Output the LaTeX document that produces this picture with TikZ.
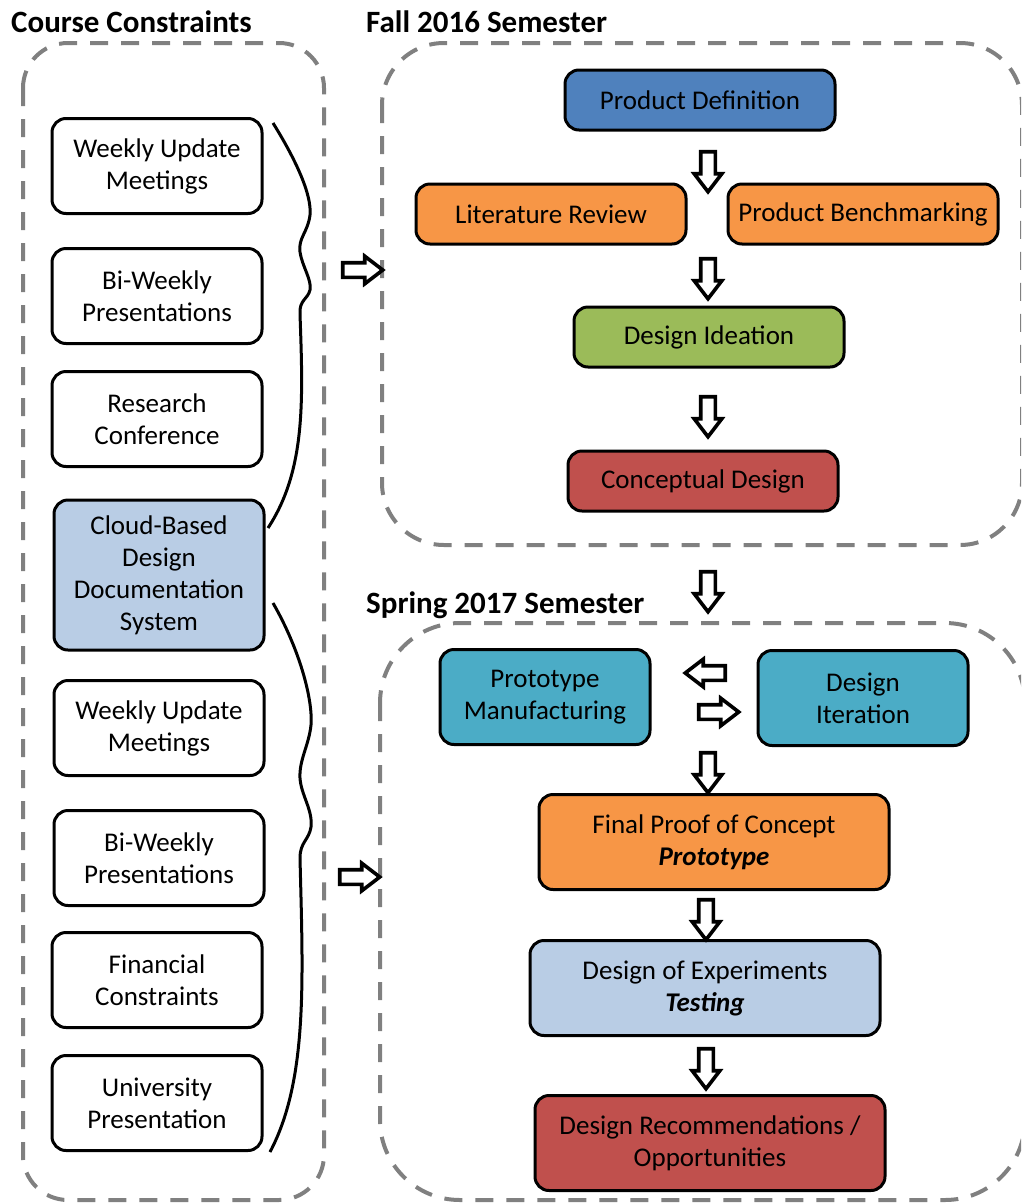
\documentclass[tikz,border=0pt]{standalone}
\usepackage{fontspec}
\setmainfont{Carlito}
\usetikzlibrary{shapes.arrows}

\definecolor{offblue}{HTML}{4F81BD}
\definecolor{offorange}{HTML}{F79646}
\definecolor{offgreen}{HTML}{9BBB59}
\definecolor{offred}{HTML}{C0504D}
\definecolor{offaqua}{HTML}{4BACC6}
\definecolor{offpale}{HTML}{B9CDE5}
\definecolor{dashgray}{HTML}{808080}

\newcommand{\boxfont}{\fontsize{27}{32}\selectfont}
\newcommand{\headfont}{\fontsize{31}{36}\selectfont\bfseries}

\begin{document}
\begin{tikzpicture}[x=1pt, y=-1pt,
  stage/.style={draw=black, line width=3pt, rounded corners=14pt, align=center,
    font=\boxfont, text=black, inner sep=2pt},
  sidebox/.style={stage, fill=white, minimum width=210pt, minimum height=95pt},
  flowbox/.style={stage, minimum width=270pt, minimum height=60pt},
  wideflow/.style={stage, minimum width=350pt, minimum height=95pt},
  container/.style={draw=dashgray, line width=4pt, dash pattern=on 18pt off 13pt},
  blockarrow/.style={single arrow, draw=black, fill=white, line width=3.6pt,
    inner sep=5.5pt, single arrow head extend=6.5pt, single arrow tip angle=75,
    minimum height=40pt},
  downarrow/.style={blockarrow, shape border rotate=270},
  rightarrow/.style={blockarrow, shape border rotate=0},
  leftarrow/.style={blockarrow, shape border rotate=180},
  heading/.style={anchor=base west, font=\headfont, inner sep=0pt}]
  \path[use as bounding box, clip] (0,0) rectangle (1021,1203);

  % dashed groups
  \draw[container, rounded corners=45pt] (23,43) rectangle (324,1200);
  \draw[container, rounded corners=62pt] (382,43) rectangle (1022,545);
  \draw[container, rounded corners=80pt] (380,623) rectangle (1025,1200);

  \node[heading] (hcourse) at (11,32) {Course Constraints};
  \node[heading] (hfall) at (366,32) {Fall 2016 Semester};
  \node[heading] (hspring) at (366,613) {Spring 2017 Semester};

  % course constraints
  \node[sidebox] (weekA) at (157,166) {Weekly Update\\Meetings};
  \node[sidebox] (biweekA) at (157,296) {Bi-Weekly\\Presentations};
  \node[sidebox] (research) at (157,419) {Research\\Conference};
  \node[sidebox, fill=offpale, minimum height=150pt] (cloud) at (159,575)
    {Cloud-Based\\Design\\Documentation\\System};
  \node[sidebox] (weekB) at (159,728) {Weekly Update\\Meetings};
  \node[sidebox] (biweekB) at (159,858) {Bi-Weekly\\Presentations};
  \node[sidebox] (financial) at (157,980) {Financial\\Constraints};
  \node[sidebox] (univ) at (157,1103) {University\\Presentation};

  % braces
  \draw[line width=3pt] (273,123) .. controls (296,160) and (312,195) .. (310,215)
    .. controls (308,232) and (298,238) .. (300,252)
    .. controls (302,266) and (312,280) .. (310,290)
    .. controls (308,299) and (299,300) .. (300,314)
    .. controls (303,400) and (306,470) .. (268,528);
  \draw[line width=3pt] (273,603) .. controls (300,650) and (313,700) .. (311,725)
    .. controls (309,745) and (299,760) .. (300,778)
    .. controls (301,795) and (313,810) .. (311,827)
    .. controls (309,840) and (300,842) .. (300,858)
    .. controls (303,980) and (308,1080) .. (270,1152);

  \node[rightarrow] (toFall) at (358,270) {};
  \node[rightarrow] (toSpring) at (355,877) {};

  % fall semester
  \node[flowbox, fill=offblue] (proddef) at (700,100) {Product Definition};
  \node[flowbox, fill=offorange] (litrev) at (551,214) {Literature Review};
  \node[flowbox, fill=offorange] (bench) at (863,214) {Product Benchmarking};
  \node[flowbox, fill=offgreen] (ideation) at (709,337) {Design Ideation};
  \node[flowbox, fill=offred] (concept) at (703,481) {Conceptual Design};

  \node[downarrow] (arrDef) at (708,167) {};
  \node[downarrow] (arrLit) at (708,274) {};
  \node[downarrow] (arrIdea) at (708,412) {};
  \node[downarrow] (arrSem) at (708,587) {};

  % spring semester
  \node[sidebox, fill=offaqua] (protoman) at (545,697) {Prototype\\Manufacturing};
  \node[sidebox, fill=offaqua] (iteration) at (863,698) {Design\\Iteration};
  \node[wideflow, fill=offorange] (finalproof) at (714,842)
    {Final Proof of Concept\\\textbf{\textit{Prototype}}};
  \node[wideflow, fill=offpale] (doe) at (705,988)
    {Design of Experiments\\\textbf{\textit{Testing}}};
  \node[wideflow, fill=offred] (recommend) at (710,1143)
    {Design Recommendations /\\Opportunities};

  \node[leftarrow] (arrBack) at (710,673) {};
  \node[rightarrow] (arrFwd) at (714,712) {};
  \node[downarrow] (arrProto) at (708,768) {};
  \node[downarrow] (arrFinal) at (706,915) {};
  \node[downarrow] (arrDoe) at (706,1064) {};
\end{tikzpicture}
\end{document}
